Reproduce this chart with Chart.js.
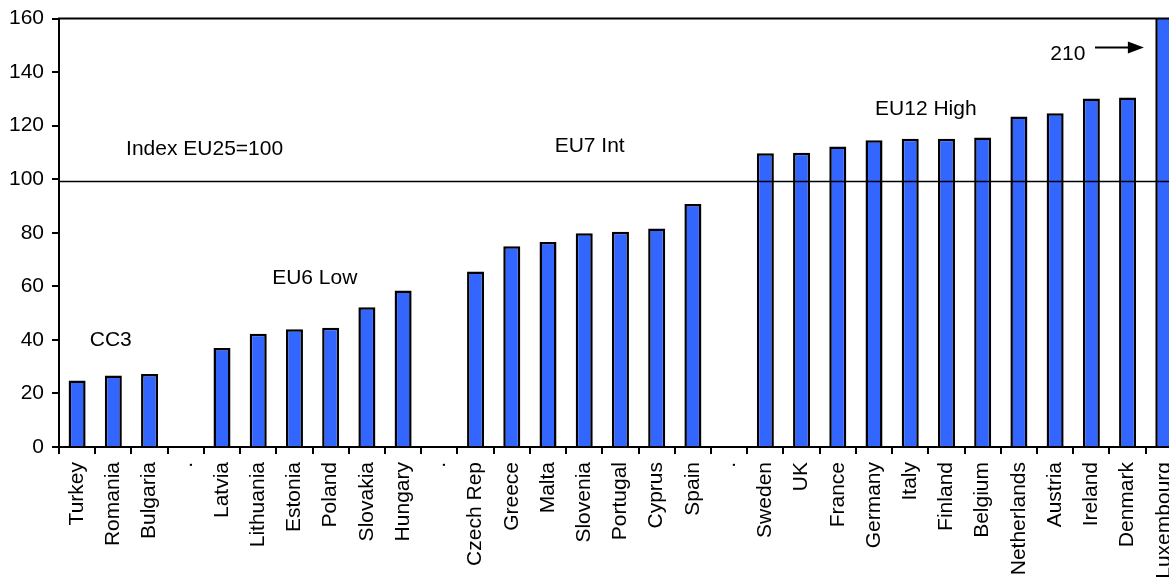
<!DOCTYPE html>
<html>
<head>
<meta charset="utf-8">
<script src="https://cdn.jsdelivr.net/npm/chart.js@4/dist/chart.umd.min.js"></script>
<style>
  html, body { margin: 0; padding: 0; background: #fff; overflow: hidden; }
  #wrap { position: relative; width: 1197px; height: 577px; }
</style>
</head>
<body>
<div id="wrap"><canvas id="c"></canvas></div>
<script>
// ---- data ----
const categories = ["Turkey","Romania","Bulgaria",".","Latvia","Lithuania","Estonia","Poland","Slovakia","Hungary",".","Czech Rep","Greece","Malta","Slovenia","Portugal","Cyprus","Spain",".","Sweden","UK","France","Germany","Italy","Finland","Belgium","Netherlands","Austria","Ireland","Denmark","Luxembourg"];
const gdpIndex = [24.8,26.7,27.3,null,37.0,42.3,44.0,44.5,52.2,58.4,null,65.5,75.0,76.5,79.8,80.4,81.6,90.7,null,109.7,109.9,112.2,114.5,115.1,115.1,115.6,123.4,124.6,130.1,130.5,210];
const yTicks = [0,20,40,60,80,100,120,140,160];
const referenceValue = 99.4;
const groupLabels = ["Index EU25=100","CC3","EU6 Low","EU7 Int","EU12 High"];
const groupLabelAnchors = [[3.52,111.2],[0.93,40.0],[6.56,63.1],[14.15,112.2],[23.43,126.0]];
const offScaleText = "210";
const offScaleAnchor = [27.35, 146.7];
const arrowFrom = [28.1, 149.2];
const arrowTo = [29.45, 149.2];

const FONT = "'Liberation Sans', Arial, sans-serif";

const overlay = {
  id: 'overlay',
  afterDatasetsDraw(chart) {
    const {ctx, chartArea: a, scales: {x, y}} = chart;
    ctx.save();
    // reference line
    const ry = Math.round(y.getPixelForValue(referenceValue)) + 0.5;
    ctx.strokeStyle = '#000'; ctx.lineWidth = 1.6;
    ctx.beginPath(); ctx.moveTo(a.left, ry); ctx.lineTo(a.right + 20, ry); ctx.stroke();
    // top frame line
    const ty = y.getPixelForValue(160);
    ctx.lineWidth = 2;
    ctx.beginPath(); ctx.moveTo(a.left - 1, ty); ctx.lineTo(a.right + 20, ty); ctx.stroke();
    // labels
    ctx.fillStyle = '#000';
    ctx.font = '21px ' + FONT;
    ctx.textAlign = 'center'; ctx.textBaseline = 'middle';
    groupLabels.forEach((t, i) => {
      const [cx, cy] = groupLabelAnchors[i];
      ctx.fillText(t, x.getPixelForValue(cx), y.getPixelForValue(cy));
    });
    ctx.fillText(offScaleText, x.getPixelForValue(offScaleAnchor[0]), y.getPixelForValue(offScaleAnchor[1]));
    // arrow
    const x1 = x.getPixelForValue(arrowFrom[0]), y1 = y.getPixelForValue(arrowFrom[1]);
    const x2 = x.getPixelForValue(arrowTo[0]), y2 = y.getPixelForValue(arrowTo[1]);
    ctx.lineWidth = 2;
    ctx.beginPath(); ctx.moveTo(x1, y1); ctx.lineTo(x2 - 12, y2); ctx.stroke();
    ctx.beginPath(); ctx.moveTo(x2, y2); ctx.lineTo(x2 - 16, y2 - 6); ctx.lineTo(x2 - 16, y2 + 6); ctx.closePath(); ctx.fill();
    ctx.restore();
  }
};

new Chart(document.getElementById('c'), {
  type: 'bar',
  data: {
    labels: categories,
    datasets: [{
      data: gdpIndex,
      backgroundColor: '#3366FF',
      borderColor: '#000',
      borderWidth: 2.5,
      barPercentage: 0.47,
      categoryPercentage: 1.0
    }]
  },
  options: {
    responsive: true,
    maintainAspectRatio: false,
    animation: false,
    layout: { padding: { top: 18, left: 0, right: 0, bottom: 0 } },
    plugins: { legend: { display: false }, tooltip: { enabled: false } },
    scales: {
      x: {
        offset: true,
        grid: { display: true, drawOnChartArea: false, offset: true, color: '#000', lineWidth: 2, tickLength: 7 },
        border: { display: true, color: '#000', width: 2 },
        ticks: { autoSkip: false, minRotation: 90, maxRotation: 90, color: '#000', font: { family: FONT, size: 21 }, padding: 8 },
        afterFit(s) { s.height = 130; }
      },
      y: {
        min: 0, max: 160,
        afterBuildTicks(s) { s.ticks = yTicks.map(v => ({ value: v })); },
        grid: { display: true, drawOnChartArea: false, color: '#000', lineWidth: 2, tickLength: 7 },
        border: { display: true, color: '#000', width: 2 },
        ticks: { color: '#000', font: { family: FONT, size: 21, lineHeight: 1 }, padding: 8 },
        afterFit(s) { s.width = 59; }
      }
    }
  },
  plugins: [overlay]
});
</script>
</body>
</html>
